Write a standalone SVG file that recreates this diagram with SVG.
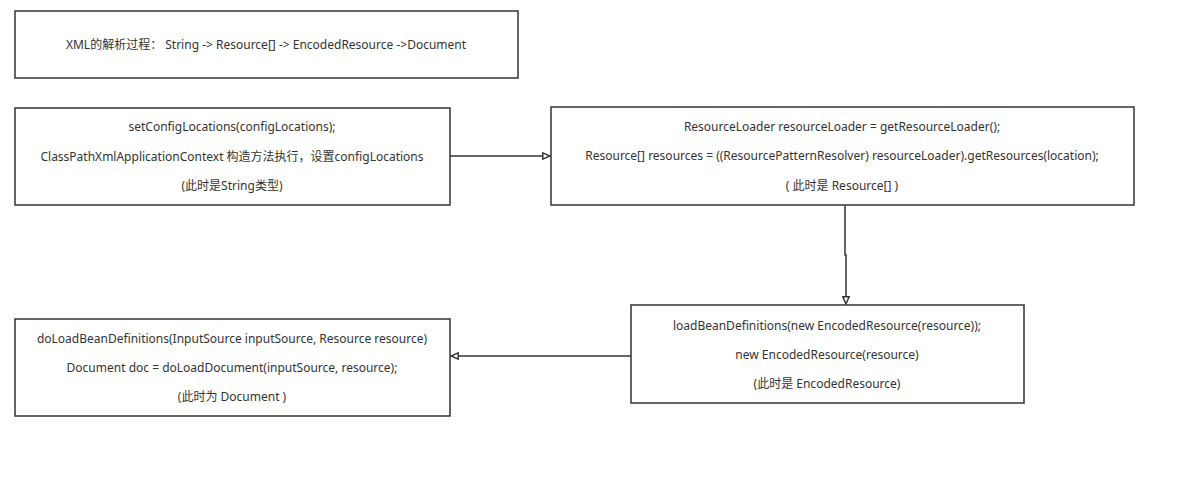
<svg xmlns="http://www.w3.org/2000/svg" width="1201" height="481" viewBox="0 0 1201 481">
<style>
.box{fill:#fff;stroke:#333;stroke-width:1.5}
.t{font-family:"Noto Sans","Noto Sans CJK SC",sans-serif;font-size:12px;fill:#333;text-anchor:middle}
.c{fill:none;stroke:#333;stroke-width:1.5}
</style>
<defs>
<marker id="tri" viewBox="0 0 10 10" refX="9" refY="5" markerWidth="9" markerHeight="9" markerUnits="userSpaceOnUse" orient="auto">
<path d="M1,1.5 L9,5 L1,8.5 Z" fill="#fff" stroke="#333" stroke-width="1.6"/>
</marker>
</defs>
<rect width="1201" height="481" fill="#fff"/>
<g id="connectors">
<path class="c" d="M450,156 L550,156" marker-end="url(#tri)"/>
<path class="c" d="M845,205 L845,255 L846,255 L846,304" marker-end="url(#tri)"/>
<path class="c" d="M631,356 L451,356" marker-end="url(#tri)"/>
</g>
<g id="n0">
<rect class="box" x="15" y="11" width="503" height="67"/>
<text class="t" x="266" y="49">XML的解析过程：  String -&gt; Resource[] -&gt; EncodedResource -&gt;Document</text>
</g>
<g id="n1">
<rect class="box" x="15" y="108" width="435" height="97"/>
<text class="t" x="232" y="131">setConfigLocations(configLocations);</text>
<text class="t" x="232" y="161">ClassPathXmlApplicationContext 构造方法执行，设置configLocations</text>
<text class="t" x="232" y="190">(此时是String类型)</text>
</g>
<g id="n2">
<rect class="box" x="551" y="107" width="583" height="98"/>
<text class="t" x="842" y="131">ResourceLoader resourceLoader = getResourceLoader();</text>
<text class="t" x="842" y="160">Resource[] resources = ((ResourcePatternResolver) resourceLoader).getResources(location);</text>
<text class="t" x="842" y="190">( 此时是 Resource[] )</text>
</g>
<g id="n3">
<rect class="box" x="631" y="305" width="393" height="98"/>
<text class="t" x="827" y="330">loadBeanDefinitions(new EncodedResource(resource));</text>
<text class="t" x="827" y="359">new EncodedResource(resource)</text>
<text class="t" x="827" y="388">(此时是 EncodedResource)</text>
</g>
<g id="n4">
<rect class="box" x="15" y="319" width="435" height="97"/>
<text class="t" x="232" y="343">doLoadBeanDefinitions(InputSource inputSource, Resource resource)</text>
<text class="t" x="232" y="372">Document doc = doLoadDocument(inputSource, resource);</text>
<text class="t" x="232" y="401">(此时为 Document )</text>
</g>
</svg>
